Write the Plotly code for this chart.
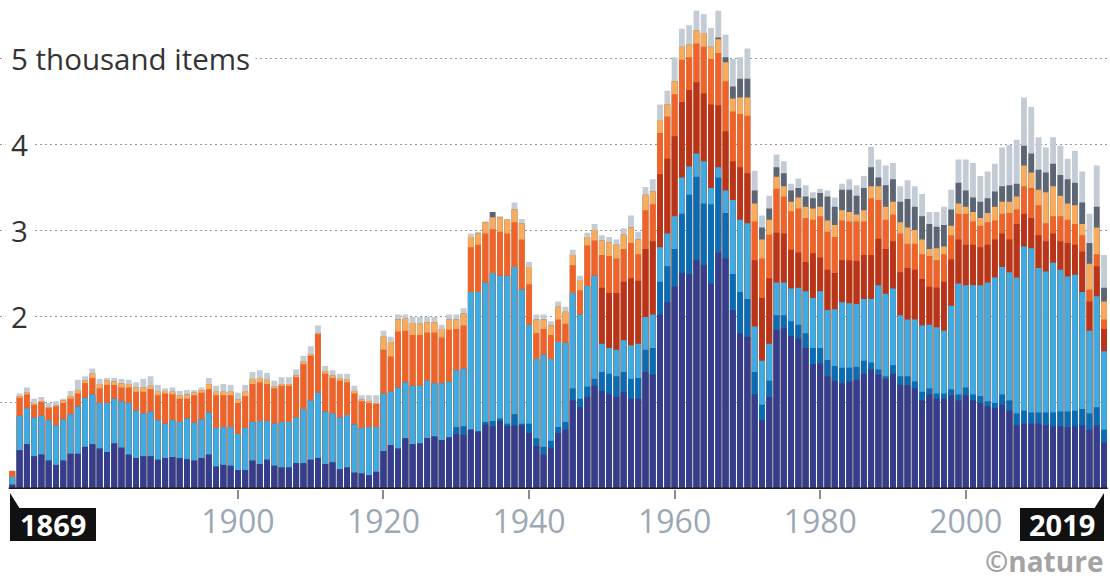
import plotly.graph_objects as go

years = list(range(1869, 2020))

# Cumulative height (thousand items) reached at the top of each coloured band
navy_top = [
    .05, .45, .52, .38, .40, .33, .28, .33, .41, .41,
    .49, .52, .47, .43, .53, .48, .40, .36, .38, .38,
    .34, .36, .37, .36, .34, .33, .36, .40, .26, .28,
    .27, .22, .22, .33, .29, .34, .27, .25, .25, .30,
    .30, .34, .36, .29, .31, .23, .25, .19, .18, .16,
    .20, .44, .51, .47, .59, .52, .53, .59, .61, .57,
    .60, .64, .63, .69, .67, .75, .73, .79, .73, .74,
    .74, .65, .50, .40, .48, .65, .69, 1.03, .95, 1.07,
    1.20, 1.14, 1.10, 1.07, 1.13, 1.05, 1.05, 1.36, 1.33, 2.03,
    2.17, 2.35, 2.51, 2.50, 2.66, 2.60, 2.39, 2.75, 2.68, 2.08,
    1.81, 1.77, 1.10, .80, 1.07, 1.85, 1.87, 1.78, 1.75, 1.64,
    1.45, 1.46, 1.31, 1.26, 1.23, 1.25, 1.27, 1.34, 1.39, 1.33,
    1.28, 1.34, 1.21, 1.21, 1.17, 1.03, 1.10, 1.05, 1.05, 1.09,
    1.03, 1.09, 1.03, 1.00, .96, .94, .98, .91, .74, .76,
    .76, .76, .74, .73, .73, .72, .73, .74, .69, .74, .54,
]

mid_blue_top = [
    .05, .45, .52, .38, .40, .33, .28, .33, .41, .41,
    .49, .52, .47, .43, .53, .48, .40, .36, .38, .38,
    .34, .36, .37, .36, .35, .33, .36, .40, .26, .28,
    .27, .22, .22, .33, .29, .34, .27, .25, .25, .30,
    .30, .34, .36, .29, .31, .23, .25, .19, .18, .16,
    .20, .44, .51, .47, .59, .52, .53, .59, .61, .57,
    .60, .72, .73, .69, .67, .78, .79, .82, .76, .87,
    .76, .76, .59, .49, .56, .72, .78, 1.17, 1.05, 1.19,
    1.28, 1.36, 1.34, 1.31, 1.36, 1.28, 1.29, 1.62, 1.64, 2.41,
    2.59, 2.79, 3.20, 3.42, 3.63, 3.32, 3.31, 3.62, 3.21, 2.50,
    2.29, 2.21, 1.36, .98, 1.26, 2.02, 2.02, 1.95, 1.91, 1.81,
    1.64, 1.64, 1.50, 1.43, 1.41, 1.41, 1.42, 1.49, 1.47, 1.39,
    1.31, 1.44, 1.31, 1.31, 1.25, 1.13, 1.17, 1.11, 1.11, 1.16,
    1.10, 1.18, 1.10, 1.08, 1.02, 1.00, 1.10, 1.03, .88, .91,
    .89, .89, .89, .89, .90, .90, .91, .93, .88, .95, .69,
]

light_blue_top = [
    .14, .85, .94, .83, .85, .80, .74, .81, .87, .96,
    1.06, 1.10, 1.00, 1.00, 1.05, 1.02, 1.00, .91, .88, .90,
    .80, .76, .80, .78, .82, .77, .81, .89, .71, .72,
    .72, .64, .71, .78, .79, .79, .76, .78, .78, .83,
    .93, 1.03, 1.12, .90, .88, .83, .86, .75, .71, .72,
    .72, 1.11, 1.13, 1.18, 1.24, 1.20, 1.20, 1.26, 1.23, 1.23,
    1.25, 1.38, 1.40, 2.29, 2.29, 2.40, 2.51, 2.48, 2.48, 2.58,
    2.32, 1.91, 1.51, 1.56, 1.51, 1.71, 1.70, 2.28, 2.03, 2.36,
    2.48, 1.69, 1.64, 1.62, 1.73, 1.67, 1.69, 2.00, 2.03, 2.81,
    2.97, 3.17, 3.62, 3.75, 3.90, 3.81, 3.50, 3.74, 3.47, 3.36,
    3.13, 3.09, 1.89, 1.49, 1.69, 2.40, 2.40, 2.33, 2.34, 2.30,
    2.22, 2.30, 2.08, 2.09, 2.17, 2.16, 2.15, 2.21, 2.21, 2.37,
    2.27, 2.33, 2.02, 1.97, 1.97, 1.90, 1.91, 1.88, 1.84, 2.13,
    2.39, 2.37, 2.37, 2.37, 2.40, 2.46, 2.58, 2.52, 2.46, 2.82,
    2.80, 2.57, 2.53, 2.63, 2.55, 2.47, 2.49, 2.29, 1.84, 2.24, 1.60,
]

dark_red_top = [
    .14, .85, .94, .83, .85, .80, .74, .81, .87, .96,
    1.06, 1.10, 1.00, 1.00, 1.05, 1.02, 1.00, .91, .88, .90,
    .80, .76, .80, .78, .82, .77, .81, .89, .71, .72,
    .72, .64, .71, .78, .79, .79, .76, .78, .78, .83,
    .93, 1.03, 1.12, .90, .88, .83, .86, .75, .71, .72,
    .72, 1.11, 1.13, 1.18, 1.24, 1.20, 1.20, 1.26, 1.23, 1.23,
    1.25, 1.38, 1.40, 2.29, 2.29, 2.40, 2.51, 2.48, 2.48, 2.58,
    2.32, 1.91, 1.51, 1.56, 1.51, 1.71, 1.70, 2.28, 2.03, 2.36,
    2.48, 2.34, 2.28, 2.28, 2.41, 2.45, 2.42, 2.79, 2.88, 3.66,
    3.84, 4.10, 4.50, 4.64, 4.73, 4.60, 4.47, 4.46, 4.16, 3.81,
    3.74, 3.67, 2.66, 2.22, 2.45, 2.98, 2.97, 2.78, 2.75, 2.64,
    2.74, 2.69, 2.55, 2.51, 2.66, 2.66, 2.65, 2.72, 2.72, 2.91,
    2.79, 2.88, 2.52, 2.57, 2.55, 2.44, 2.35, 2.34, 2.41, 2.67,
    2.90, 2.84, 2.84, 2.81, 2.84, 2.90, 2.97, 2.90, 3.08, 3.20,
    3.15, 2.95, 2.88, 2.97, 2.88, 2.86, 2.84, 2.76, 2.18, 2.59, 1.86,
]

orange_top = [
    .21, 1.06, 1.10, .98, 1.01, .94, .96, 1.00, 1.05, 1.11,
    1.23, 1.29, 1.17, 1.21, 1.21, 1.18, 1.18, 1.13, 1.13, 1.16,
    1.09, 1.11, 1.10, 1.05, 1.05, 1.09, 1.12, 1.16, 1.09, 1.09,
    1.09, 1.00, 1.08, 1.22, 1.24, 1.22, 1.17, 1.20, 1.20, 1.30,
    1.45, 1.55, 1.80, 1.34, 1.29, 1.26, 1.24, 1.11, 1.02, 1.00,
    .99, 1.62, 1.54, 1.83, 1.84, 1.79, 1.79, 1.82, 1.82, 1.76,
    1.85, 1.86, 1.90, 2.81, 2.84, 2.97, 3.02, 2.99, 2.97, 3.10,
    2.90, 2.38, 1.81, 1.86, 1.79, 1.97, 1.92, 2.60, 2.31, 2.83,
    2.89, 2.72, 2.71, 2.68, 2.79, 2.86, 2.73, 3.24, 3.31, 4.14,
    4.33, 4.59, 4.99, 5.02, 5.18, 5.14, 5.00, 5.07, 4.74, 4.39,
    4.36, 4.34, 3.11, 2.68, 2.96, 3.49, 3.40, 3.23, 3.26, 3.15,
    3.13, 3.17, 2.99, 2.93, 3.12, 3.11, 3.11, 3.11, 3.38, 3.36,
    3.13, 3.19, 2.97, 2.85, 2.85, 2.73, 2.71, 2.66, 2.73, 2.95,
    3.20, 3.20, 3.11, 3.06, 3.10, 3.12, 3.20, 3.21, 3.25, 3.52,
    3.50, 3.30, 3.09, 3.17, 3.17, 3.13, 3.08, 2.95, 2.32, 2.73, 1.97,
]

light_orange_top = [
    .21, 1.08, 1.12, 1.00, 1.02, .95, .97, 1.03, 1.08, 1.15,
    1.26, 1.34, 1.22, 1.26, 1.25, 1.23, 1.22, 1.18, 1.18, 1.20,
    1.13, 1.14, 1.13, 1.09, 1.10, 1.12, 1.15, 1.22, 1.13, 1.13,
    1.13, 1.04, 1.13, 1.28, 1.29, 1.27, 1.19, 1.22, 1.22, 1.32,
    1.48, 1.57, 1.81, 1.37, 1.32, 1.29, 1.27, 1.14, 1.04, 1.02,
    1.00, 1.77, 1.71, 1.97, 1.98, 1.93, 1.92, 1.94, 1.94, 1.86,
    1.97, 1.97, 2.04, 2.93, 2.97, 3.10, 3.16, 3.16, 3.13, 3.25,
    3.09, 2.58, 1.97, 1.97, 1.90, 2.12, 2.06, 2.72, 2.43, 2.93,
    3.01, 2.89, 2.87, 2.84, 2.96, 3.04, 2.90, 3.42, 3.46, 4.29,
    4.47, 4.74, 5.14, 5.17, 5.33, 5.30, 5.14, 5.23, 4.96, 4.54,
    4.55, 4.55, 3.32, 2.90, 3.13, 3.63, 3.52, 3.34, 3.39, 3.28,
    3.26, 3.28, 3.12, 3.07, 3.24, 3.22, 3.19, 3.24, 3.52, 3.52,
    3.28, 3.34, 3.10, 3.04, 3.01, 2.90, 2.79, 2.80, 2.82, 3.06,
    3.32, 3.28, 3.22, 3.15, 3.21, 3.28, 3.34, 3.34, 3.40, 3.76,
    3.68, 3.48, 3.45, 3.52, 3.41, 3.32, 3.30, 3.08, 2.62, 3.04, 2.18,
]

dark_gray_top = [
    .21, 1.08, 1.12, 1.00, 1.02, .95, .97, 1.03, 1.08, 1.15,
    1.26, 1.34, 1.22, 1.26, 1.25, 1.23, 1.22, 1.18, 1.18, 1.20,
    1.13, 1.14, 1.13, 1.09, 1.10, 1.12, 1.15, 1.22, 1.13, 1.13,
    1.13, 1.04, 1.13, 1.28, 1.29, 1.27, 1.19, 1.22, 1.22, 1.32,
    1.48, 1.57, 1.81, 1.37, 1.32, 1.29, 1.27, 1.14, 1.04, 1.02,
    1.00, 1.77, 1.71, 1.97, 1.98, 1.93, 1.92, 1.94, 1.94, 1.86,
    1.97, 1.97, 2.04, 2.93, 2.97, 3.10, 3.22, 3.16, 3.13, 3.25,
    3.09, 2.58, 1.97, 1.97, 1.90, 2.12, 2.06, 2.72, 2.43, 2.93,
    3.01, 2.89, 2.87, 2.84, 2.96, 3.04, 2.90, 3.42, 3.46, 4.29,
    4.47, 4.74, 5.14, 5.17, 5.33, 5.30, 5.14, 5.25, 5.02, 4.68,
    4.77, 4.77, 3.47, 3.04, 3.26, 3.74, 3.67, 3.47, 3.50, 3.40,
    3.38, 3.44, 3.40, 3.28, 3.48, 3.48, 3.41, 3.50, 3.74, 3.62,
    3.53, 3.60, 3.34, 3.37, 3.28, 3.17, 3.08, 3.05, 3.07, 3.25,
    3.56, 3.47, 3.39, 3.34, 3.38, 3.46, 3.52, 3.53, 3.55, 3.99,
    3.90, 3.71, 3.68, 3.78, 3.65, 3.60, 3.56, 3.33, 2.86, 3.28, 2.34,
]

total_items = [
    .21, 1.11, 1.18, 1.05, 1.07, 1.00, 1.02, 1.05, 1.14, 1.27,
    1.31, 1.40, 1.28, 1.29, 1.29, 1.28, 1.27, 1.24, 1.28, 1.31,
    1.21, 1.17, 1.18, 1.14, 1.15, 1.15, 1.18, 1.29, 1.20, 1.22,
    1.21, 1.12, 1.21, 1.36, 1.38, 1.35, 1.26, 1.30, 1.30, 1.39,
    1.55, 1.66, 1.90, 1.43, 1.38, 1.34, 1.34, 1.20, 1.09, 1.09,
    1.09, 1.84, 1.77, 2.03, 2.03, 2.00, 2.00, 2.00, 2.00, 1.91,
    2.03, 2.03, 2.10, 2.97, 2.99, 3.11, 3.22, 3.17, 3.14, 3.33,
    3.14, 2.64, 2.03, 2.03, 1.95, 2.18, 2.12, 2.78, 2.48, 2.98,
    3.08, 2.95, 2.93, 2.90, 3.03, 3.18, 2.99, 3.51, 3.60, 4.47,
    4.63, 5.02, 5.35, 5.39, 5.56, 5.52, 5.36, 5.56, 5.28, 5.00,
    5.02, 5.12, 3.70, 3.18, 3.41, 3.89, 3.81, 3.55, 3.61, 3.53,
    3.45, 3.49, 3.47, 3.39, 3.55, 3.60, 3.53, 3.64, 3.98, 3.83,
    3.76, 3.79, 3.52, 3.59, 3.52, 3.43, 3.22, 3.22, 3.28, 3.48,
    3.83, 3.83, 3.79, 3.64, 3.69, 3.78, 3.97, 4.00, 4.06, 4.55,
    4.44, 4.09, 3.97, 4.09, 3.99, 3.84, 3.93, 3.69, 3.20, 3.76, 2.72,
]

x_tick_years = [1900, 1920, 1940, 1960, 1980, 2000]
grid_values = [1, 2, 3, 4, 5]
y_labels = {5: "5 thousand items", 4: "4", 3: "3", 2: "2"}

# drawn back to front: each band covers the part of the taller band below its top
bands = [
    (total_items, "#c3cbd5"),
    (dark_gray_top, "#5b6573"),
    (light_orange_top, "#f8ab5d"),
    (orange_top, "#ef6229"),
    (dark_red_top, "#b8351b"),
    (light_blue_top, "#3eabe3"),
    (mid_blue_top, "#0b6cb4"),
    (navy_top, "#393b8b"),
]

for vals, _ in bands:
    assert len(vals) == len(years)

fig = go.Figure()
for vals, color in bands:
    fig.add_trace(go.Bar(x=years, y=vals, marker=dict(color=color, line=dict(width=0)),
                         showlegend=False, hoverinfo="x+y"))

W, H = 1110, 582
ML, MR, MT, MB = 0, 0, 3, 93
plot_h = H - MT - MB


def px(x):
    return (x - ML) / (W - ML - MR)


def py(y):
    return (H - MB - y) / plot_h


shapes = []
# thick baseline
shapes.append(dict(type="line", xref="x", yref="y", x0=1868.5, x1=2019.5, y0=0, y1=0,
                   line=dict(color="#1b1b1b", width=3), layer="above"))
# year flags
shapes.append(dict(type="rect", xref="paper", yref="paper", x0=px(10), x1=px(96), y0=py(508), y1=py(541),
                   fillcolor="#111111", line=dict(width=0)))
shapes.append(dict(type="path", xref="paper", yref="paper",
                   path=f"M {px(10)},{py(493)} L {px(10)},{py(509)} L {px(20)},{py(509)} Z",
                   fillcolor="#111111", line=dict(width=0)))
shapes.append(dict(type="rect", xref="paper", yref="paper", x0=px(1020), x1=px(1104), y0=py(508), y1=py(541),
                   fillcolor="#111111", line=dict(width=0)))
shapes.append(dict(type="path", xref="paper", yref="paper",
                   path=f"M {px(1104)},{py(493)} L {px(1104)},{py(509)} L {px(1094)},{py(509)} Z",
                   fillcolor="#111111", line=dict(width=0)))

annotations = []
for v, txt in y_labels.items():
    annotations.append(dict(xref="paper", yref="y", x=px(5), y=v, xanchor="left", yanchor="middle",
                            text=txt, showarrow=False, bgcolor="white", borderpad=5,
                            font=dict(family="Open Sans", size=29.5, color="#333333")))
annotations.append(dict(xref="paper", yref="paper", x=px(53), y=py(524.5), text="<b>1869</b>",
                        showarrow=False, font=dict(family="Open Sans", size=29, color="white"),
                        xanchor="center", yanchor="middle"))
annotations.append(dict(xref="paper", yref="paper", x=px(1062), y=py(524.5), text="<b>2019</b>",
                        showarrow=False, font=dict(family="Open Sans", size=29, color="white"),
                        xanchor="center", yanchor="middle"))
annotations.append(dict(xref="paper", yref="paper", x=px(1104), y=py(561), text="<b>©nature</b>",
                        showarrow=False, borderpad=0,
                        font=dict(family="Open Sans", size=28, color="#a3a3a3"),
                        xanchor="right", yanchor="middle"))

fig.update_layout(
    width=W, height=H,
    margin=dict(l=ML, r=MR, t=MT, b=MB, pad=0),
    paper_bgcolor="white", plot_bgcolor="white",
    barmode="overlay", bargap=0.2,
    xaxis=dict(range=[1867.31, 2019.82], tickvals=x_tick_years, ticks="outside", ticklen=9,
               tickwidth=1.5, tickcolor="#8c8c8c", showgrid=False, zeroline=False, showline=False,
               ticklabelstandoff=-4,
               tickfont=dict(family="Open Sans", size=32, color="#9ba7b5")),
    yaxis=dict(range=[0, 5.65], tickvals=grid_values, showticklabels=False, showgrid=True,
               gridcolor="#9a9a9a", griddash="2px,3px", gridwidth=1, zeroline=False, showline=False),
    shapes=shapes,
    annotations=annotations,
)

fig.write_html("out.html", config={"displayModeBar": False},
               post_script="document.body.style.margin='0';document.body.style.overflow='hidden';")
